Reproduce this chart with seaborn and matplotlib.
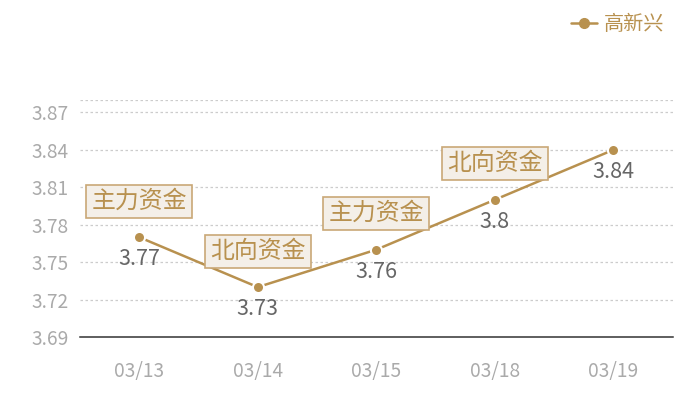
import matplotlib
matplotlib.use("Agg")
import matplotlib.pyplot as plt
from matplotlib.lines import Line2D
import pandas as pd
import seaborn as sns

dates = ["03/13", "03/14", "03/15", "03/18", "03/19"]
values = [3.77, 3.73, 3.76, 3.80, 3.84]
tags = ["主力资金", "北向资金", "主力资金", "北向资金", ""]
yticks = [3.69, 3.72, 3.75, 3.78, 3.81, 3.84, 3.87]
series_name = "高新兴"

GOLD = "#b8914f"

sns.set_theme(style="white")
plt.rcParams["font.family"] = ["Noto Sans CJK SC", "DejaVu Sans"]

data = pd.DataFrame({"date": dates, "value": values, "series": series_name})
data["pos"] = range(len(dates))

fig = plt.figure(figsize=(7, 4), dpi=100)
ax = fig.add_axes([80 / 700, 63 / 400, 592.5 / 700, 237 / 400])

sns.lineplot(data=data, x="pos", y="value", ax=ax, color=GOLD, linewidth=1.8,
             marker="o", markersize=8, markeredgecolor="white", markeredgewidth=1.5,
             legend=False)

ax.set_xlim(-0.5, len(dates) - 0.5)
ax.set_ylim(3.69, 3.88)
ax.set_xticks(data["pos"], dates)
ax.set_yticks(yticks, [f"{t:.2f}" for t in yticks])
ax.tick_params(axis="both", length=0, labelsize=13.8, labelcolor="#aaaaaa")
ax.tick_params(axis="x", pad=17)
ax.tick_params(axis="y", pad=8)
ax.set_xlabel("")
ax.set_ylabel("")

for t in yticks[1:] + [3.88]:
    ax.axhline(t, color="#cccccc", linewidth=0.9, linestyle=(0, (2, 2)), zorder=0)

for side in ["top", "right", "left"]:
    ax.spines[side].set_visible(False)
ax.spines["bottom"].set_color("#333333")
ax.spines["bottom"].set_linewidth(1.1)

for i, (v, tag) in enumerate(zip(values, tags)):
    ax.annotate(f"{v:g}", (i, v), xytext=(0, -22), textcoords="offset pixels",
                ha="center", va="center", fontsize=15.5, color="#666666")
    if tag:
        ax.annotate(tag, (i, v), xytext=(0, 36), textcoords="offset pixels",
                    ha="center", va="center", fontsize=17.2, color=GOLD,
                    bbox=dict(boxstyle="square,pad=0.21", facecolor="#f4efe8",
                              edgecolor="#c9a877", linewidth=1.2))

handle = Line2D([], [], color=GOLD, linewidth=1.8, marker="o", markersize=7)
fig.legend([handle], [series_name], loc="upper right", bbox_to_anchor=(0.969, 1.0),
           frameon=False, fontsize=14.5, labelcolor=GOLD, handlelength=1.3,
           handletextpad=0.35, borderaxespad=0.3)

fig.savefig("out.png", dpi=100)
